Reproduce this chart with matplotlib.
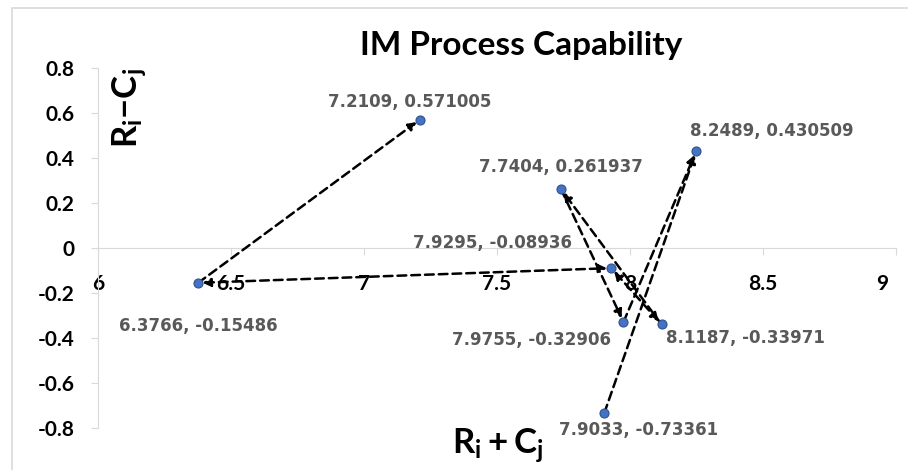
import matplotlib
matplotlib.use("Agg")
import matplotlib.pyplot as plt
import matplotlib.transforms as mtransforms
from matplotlib.patches import Rectangle

plt.rcParams['font.family'] = ['Lato', 'DejaVu Sans']
plt.rcParams['mathtext.fontset'] = 'custom'
plt.rcParams['mathtext.rm'] = 'Lato:bold'
plt.rcParams['mathtext.it'] = 'Lato:bold'
plt.rcParams['mathtext.bf'] = 'Lato:bold'

# data
r_plus_c = [6.3766, 7.2109, 7.7404, 8.2489, 7.9295, 7.9755, 8.1187, 7.9033]
r_minus_c = [-0.15486, 0.571005, 0.261937, 0.430509, -0.08936, -0.32906, -0.33971, -0.73361]
point_labels = ["6.3766, -0.15486", "7.2109, 0.571005", "7.7404, 0.261937", "8.2489, 0.430509",
                "7.9295, -0.08936", "7.9755, -0.32906", "8.1187, -0.33971", "7.9033, -0.73361"]
# label offsets in pixels (dx, dy)
label_offsets = [(0, -43), (-10, 18), (0, 22), (76, 20), (-119, 25), (-92, -18), (84, -14), (34, -17)]
# arrows (from index, to index, two heads?)
arrow_from = [0, 0, 2, 6, 4, 5, 7]
arrow_to = [1, 4, 5, 2, 6, 3, 3]
arrow_both = [False, True, False, False, True, False, False]

x_ticks = [6, 6.5, 7, 7.5, 8, 8.5, 9]
x_tick_labels = ["6", "6.5", "7", "7.5", "8", "8.5", "9"]
y_ticks = [0.8, 0.6, 0.4, 0.2, 0, -0.2, -0.4, -0.6, -0.8]
y_tick_labels = ["0.8", "0.6", "0.4", "0.2", "0", "-0.2", "-0.4", "-0.6", "-0.8"]

fig = plt.figure(figsize=(9.08, 4.70), dpi=100)
ax = fig.add_axes([98/908, 1-428/470, (896-98)/908, (428-68)/470])

fig.patches.append(Rectangle((12/908, -0.1), 1.2, 1.1 - 8/470, transform=fig.transFigure,
                             fill=False, edgecolor='#d9d9d9', linewidth=1.2))

for a, b, both in zip(arrow_from, arrow_to, arrow_both):
    ax.annotate('', xy=(r_plus_c[b], r_minus_c[b]), xytext=(r_plus_c[a], r_minus_c[a]),
                arrowprops=dict(arrowstyle='<|-|>' if both else '-|>', color='black', lw=1.8,
                                linestyle=(0, (3.5, 2)), mutation_scale=12,
                                shrinkA=3 if both else 0, shrinkB=3))

ax.plot(r_plus_c, r_minus_c, 'o', color='#4472C4', markeredgecolor='#2F528F',
        markeredgewidth=0.8, markersize=6.5, zorder=5)

for xv, yv, lab, off in zip(r_plus_c, r_minus_c, point_labels, label_offsets):
    ax.annotate(lab, (xv, yv), xytext=off, textcoords='offset pixels', ha='center', va='center',
                fontsize=12, fontweight='bold', color='#595959', family='DejaVu Sans')

ax.set_xlim(6, 9)
ax.set_ylim(-0.8, 0.8)
for s in ['top', 'right']:
    ax.spines[s].set_visible(False)
ax.spines['bottom'].set_position(('data', 0))
ax.spines['bottom'].set_color('#d9d9d9')
ax.spines['left'].set_color('#d9d9d9')
ax.set_xticks(x_ticks)
ax.set_xticklabels(x_tick_labels)
ax.set_yticks(y_ticks)
ax.set_yticklabels(y_tick_labels)
ax.tick_params(axis='x', direction='out', length=5, color='#d9d9d9', pad=14, labelsize=15)
ax.tick_params(axis='y', direction='out', length=5, color='#d9d9d9', pad=12, labelsize=15)
for t in ax.get_xticklabels() + ax.get_yticklabels():
    t.set_fontweight('bold')
last = ax.get_xticklabels()[-1]
last.set_transform(last.get_transform() + mtransforms.ScaledTranslation(-0.14, 0, fig.dpi_scale_trans))

fig.text(521/908, 1-45/470, 'IM Process Capability', ha='center', va='center',
         fontsize=24, fontweight='bold')
fig.text(130/908, 1-108/470, r'$\mathbf{R_i\mathrm{-}C_j}$', ha='center', va='center',
         rotation=90, fontsize=25)
fig.text(498/908, 1-446/470, r'$\mathbf{R_i + C_j}$', ha='center', va='center', fontsize=25)

fig.savefig('out.png', dpi=100)
